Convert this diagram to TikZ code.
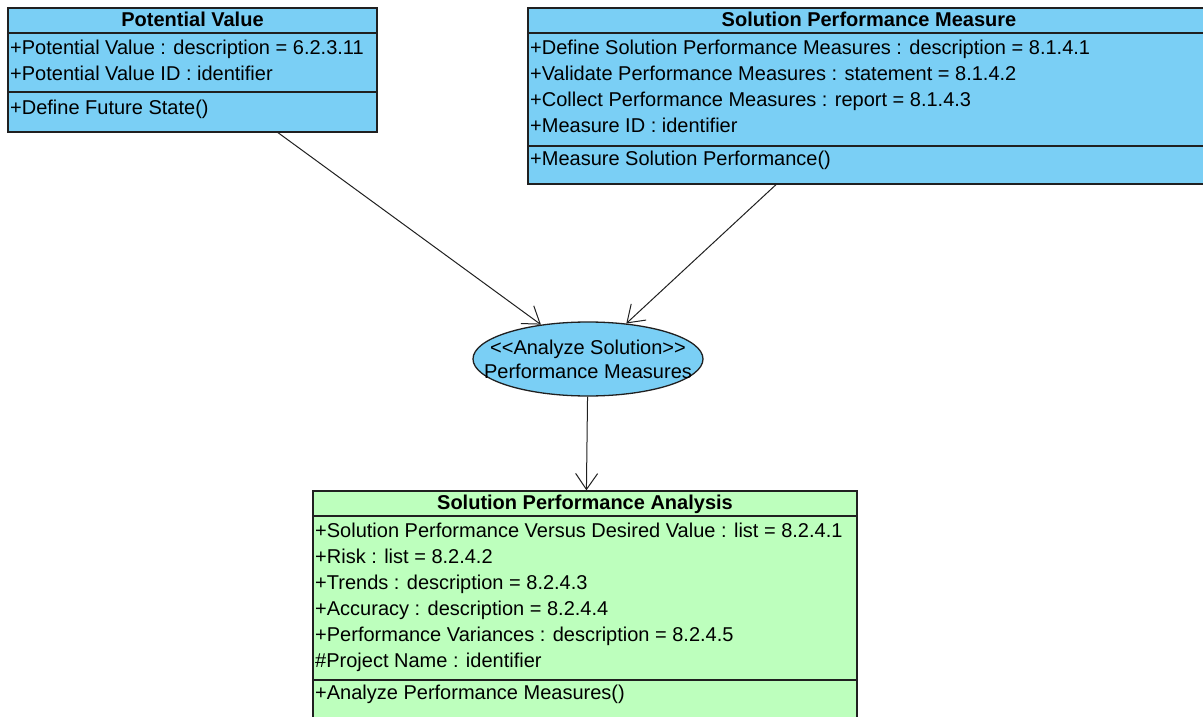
\documentclass[tikz,border=0pt]{standalone}
\usepackage{fontspec}
\setmainfont{Liberation Sans}
\usetikzlibrary{arrows.meta,positioning,shapes.geometric}
\definecolor{classblue}{HTML}{7ACFF5}
\definecolor{classgreen}{HTML}{BDFFBD}
\definecolor{umlline}{HTML}{202020}

\tikzset{
  classbox/.style={draw=umlline,line width=1.3pt,inner sep=0pt},
  divider/.style={draw=umlline,line width=1.3pt},
  classtitle/.style={font=\fontsize{20}{22}\selectfont\bfseries,inner sep=0pt,
    text height=14.5pt,text depth=4pt},
  member/.style={anchor=west,inner sep=0pt,font=\fontsize{20}{22}\selectfont,
    text height=14.5pt,text depth=4pt},
  usecase/.style={ellipse,draw=umlline,line width=1.3pt,fill=classblue,inner sep=0pt},
  usecasetext/.style={align=center,inner sep=0pt,font=\fontsize{20}{24}\selectfont},
  dependency/.style={draw=umlline,line width=1pt,-{Straight Barb[length=16pt,width=22pt]}}
}

\begin{document}
\begin{tikzpicture}[x=1pt,y=-1pt]
  \useasboundingbox (0,0) rectangle (1203,717);

  % Potential Value class
  \node[classbox,fill=classblue,minimum width=369pt,minimum height=124pt] (pv) at (192.5,70) {};
  \draw[divider] (8,33) -- (377,33);
  \draw[divider] (8,92) -- (377,92);
  \node[classtitle] (pvtitle) at (192.5,21) {Potential Value};
  \node[member] (pvattra) at (10,49) {+Potential Value : description = 6.2.3.11};
  \node[member] (pvattrb) at (10,75) {+Potential Value ID : identifier};
  \node[member] (pvop) at (10,109) {+Define Future State()};

  % Solution Performance Measure class
  \node[classbox,fill=classblue,minimum width=678pt,minimum height=176pt] (spm) at (867,96) {};
  \draw[divider] (528,33) -- (1206,33);
  \draw[divider] (528,146) -- (1206,146);
  \node[classtitle] (spmtitle) at (869,21) {Solution Performance Measure};
  \node[member] (spmattra) at (530,49) {+Define Solution Performance Measures : description = 8.1.4.1};
  \node[member] (spmattrb) at (530,75) {+Validate Performance Measures : statement = 8.1.4.2};
  \node[member] (spmattrc) at (530,101) {+Collect Performance Measures : report = 8.1.4.3};
  \node[member] (spmattrd) at (530,127) {+Measure ID : identifier};
  \node[member] (spmop) at (530,160) {+Measure Solution Performance()};

  % use case
  \node[usecase,minimum width=230pt,minimum height=74pt] (uc) at (588,359) {};
  \node[usecasetext] (uctext) at (uc.center)
    {<{}<Analyze Solution>{}>\\Performance Measures};

  % Solution Performance Analysis class
  \node[classbox,fill=classgreen,minimum width=544pt,minimum height=233pt] (spa) at (585,607.5) {};
  \draw[divider] (313,516) -- (857,516);
  \draw[divider] (313,680) -- (857,680);
  \node[classtitle] (spatitle) at (585,504) {Solution Performance Analysis};
  \node[member] (spaattra) at (315,532) {+Solution Performance Versus Desired Value : list = 8.2.4.1};
  \node[member] (spaattrb) at (315,558) {+Risk : list = 8.2.4.2};
  \node[member] (spaattrc) at (315,584) {+Trends : description = 8.2.4.3};
  \node[member] (spaattrd) at (315,610) {+Accuracy : description = 8.2.4.4};
  \node[member] (spaattre) at (315,636) {+Performance Variances : description = 8.2.4.5};
  \node[member] (spaattrf) at (315,662) {\#Project Name : identifier};
  \node[member] (spaop) at (315,694) {+Analyze Performance Measures()};

  % dependencies
  \draw[dependency] ([xshift=85.5pt]pv.south) -- (uc);
  \draw[dependency] ([xshift=-91pt]spm.south) -- (uc);
  \draw[dependency] (uc) -- (spa);
\end{tikzpicture}
\end{document}
